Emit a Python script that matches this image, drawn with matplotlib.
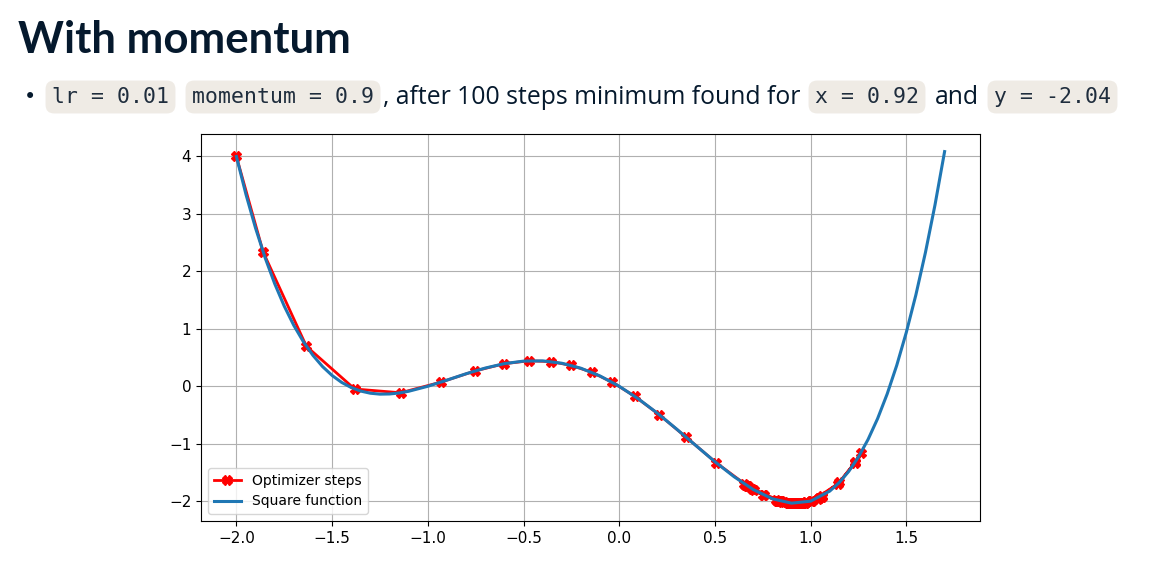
import matplotlib
matplotlib.use("Agg")
import matplotlib.pyplot as plt

# courbe de la fonction
curve_x = [-2.0, -1.95, -1.9, -1.85, -1.8, -1.75, -1.7, -1.65, -1.6, -1.55, -1.5, -1.45, -1.4,
           -1.35, -1.3, -1.25, -1.2, -1.15, -1.1, -1.0, -0.9, -0.8, -0.7, -0.6, -0.5, -0.4,
           -0.3, -0.2, -0.1, 0.0, 0.1, 0.2, 0.3, 0.4, 0.5, 0.6, 0.7, 0.8, 0.9, 1.0, 1.1, 1.15,
           1.2, 1.25, 1.3, 1.35, 1.4, 1.45, 1.5, 1.55, 1.6, 1.65, 1.7]
curve_y = [4.0, 3.339, 2.753, 2.237, 1.786, 1.395, 1.059, 0.775, 0.538, 0.343, 0.188, 0.067,
           -0.022, -0.084, -0.121, -0.137, -0.134, -0.117, -0.087, 0.0, 0.107, 0.218, 0.317,
           0.394, 0.438, 0.442, 0.401, 0.314, 0.179, 0.0, -0.219, -0.470, -0.745, -1.030,
           -1.313, -1.574, -1.797, -1.958, -2.035, -2.0, -1.825, -1.675, -1.478, -1.231,
           -0.927, -0.563, -0.134, 0.364, 0.938, 1.591, 2.330, 3.159, 4.085]

# pas de l'optimiseur
steps_x = [-2.0, -1.86, -1.6344, -1.3822, -1.1422, -0.9314, -0.7527, -0.6019, -0.4724, -0.3572,
           -0.2498, -0.1444, -0.0358, 0.0804, 0.208, 0.3495, 0.5055, 0.6733, 0.8454, 1.0085,
           1.1441, 1.2327, 1.2613, 1.2295, 1.1503, 1.0445, 0.9327, 0.8309, 0.7488, 0.6913,
           0.6596, 0.6529, 0.6691, 0.705, 0.7566, 0.8188, 0.8855, 0.9496, 1.004, 1.0424,
           1.0608, 1.0582, 1.0372, 1.0029, 0.9616, 0.9196, 0.8821, 0.8529, 0.8341, 0.8264,
           0.8295, 0.842, 0.8618, 0.8862, 0.9122, 0.9367, 0.9571, 0.9712, 0.9778, 0.9767,
           0.9689, 0.9561, 0.9404, 0.9241, 0.9092, 0.8973, 0.8895, 0.8861, 0.8871, 0.892,
           0.8998, 0.9094, 0.9195, 0.9289, 0.9366, 0.9418, 0.9441, 0.9436, 0.9406, 0.9357,
           0.9297, 0.9234, 0.9176, 0.9129, 0.9098, 0.9084, 0.9088, 0.9107, 0.9138, 0.9175,
           0.9214, 0.925, 0.9279, 0.9299, 0.9308, 0.9306, 0.9294, 0.9275, 0.9252, 0.9227, 0.9204]
steps_y = [4.0, 2.335, 0.696, -0.047, -0.113, 0.072, 0.267, 0.392, 0.443, 0.430,
           0.363, 0.245, 0.069, -0.173, -0.492, -0.886, -1.328, -1.743, -2.005, -1.991,
           -1.695, -1.322, -1.167, -1.339, -1.674, -1.941, -2.038, -1.994, -1.887, -1.783,
           -1.713, -1.698, -1.734, -1.807, -1.897, -1.980, -2.031, -2.034, -1.997, -1.946,
           -1.914, -1.919, -1.954, -1.998, -2.030, -2.039, -2.030, -2.012, -1.997, -1.989,
           -1.992, -2.004, -2.018, -2.031, -2.038, -2.037, -2.031, -2.024, -2.020, -2.021,
           -2.025, -2.032, -2.037, -2.039, -2.038, -2.035, -2.032, -2.031, -2.031, -2.033,
           -2.036, -2.038, -2.039, -2.038, -2.037, -2.036, -2.036, -2.036, -2.037, -2.038,
           -2.038, -2.039, -2.039, -2.038, -2.038, -2.038, -2.038, -2.038, -2.038, -2.039,
           -2.039, -2.039, -2.038, -2.038, -2.038, -2.038, -2.038, -2.038, -2.039, -2.039, -2.039]

W, H = 1152, 572
navy = '#05192D'
code_bg = '#efebe5'

fig = plt.figure(figsize=(W / 100, H / 100), dpi=100)

# titre et ligne de texte
fig.text(18 / W, 1 - 53 / H, 'With momentum', fontsize=31.5, weight='bold', color=navy,
         family='Lato', va='baseline')
fig.text(30 / W, 1 - 97 / H, '\u2022', fontsize=15, color=navy, va='center', ha='center',
         family='DejaVu Sans')

codes = [(52, 'lr = 0.01'), (192, 'momentum = 0.9'), (815, 'x = 0.92'), (994, 'y = -2.04')]
for xp, txt in codes:
    fig.text(xp / W, 1 - 97 / H, txt, fontsize=15.5, family='DejaVu Sans Mono', color='#1f2d3d',
             va='center', bbox=dict(boxstyle='round,pad=0.3,rounding_size=0.4', fc=code_bg, ec='none'))

plain = [(383, ', after 100 steps minimum found for'), (935, 'and')]
for xp, txt in plain:
    fig.text(xp / W, 1 - 97 / H, txt, fontsize=17.8, family='Open Sans', color=navy, va='center')

# le graphique
ax = fig.add_axes([201 / W, 1 - 521 / H, (980 - 201) / W, (521 - 134) / H])
ax.plot(steps_x, steps_y, color='red', marker='X', markersize=7, linewidth=2,
        label='Optimizer steps')
ax.plot(curve_x, curve_y, color='tab:blue', linewidth=2.2, label='Square function')
ax.grid(True)
ax.tick_params(labelsize=11)
ax.legend(loc='lower left', fontsize=10)

fig.savefig('out.png', dpi=100)
